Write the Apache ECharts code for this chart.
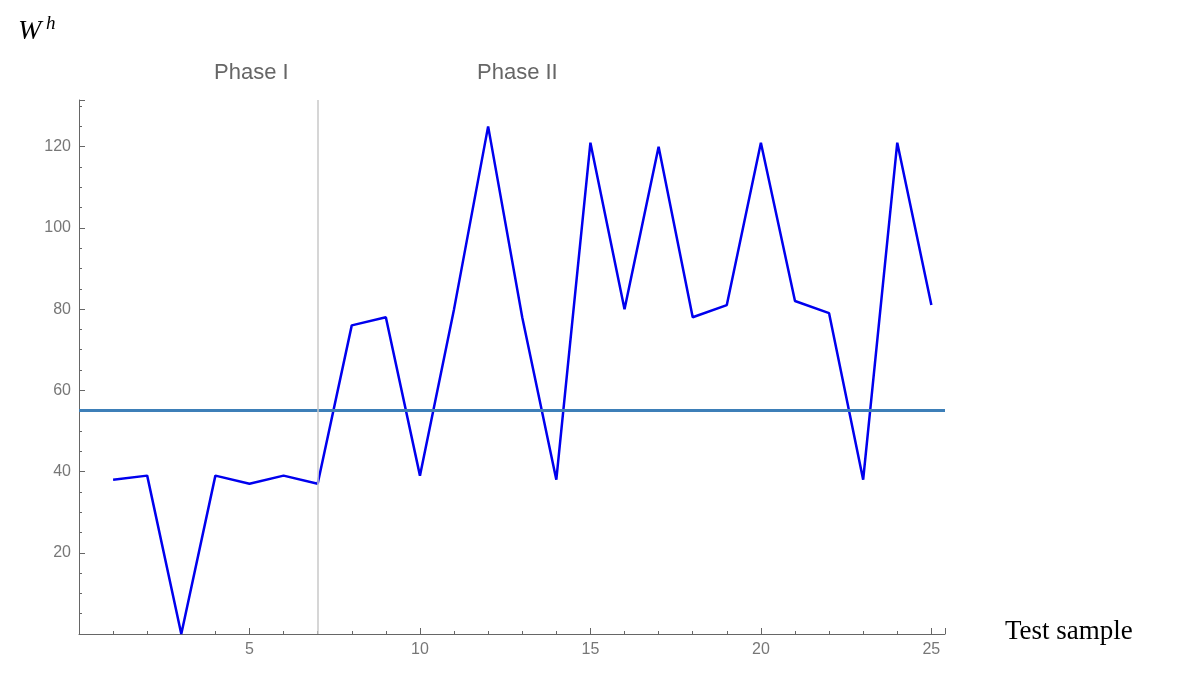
<!DOCTYPE html>
<html><head><meta charset="utf-8">
<script src="https://cdn.jsdelivr.net/npm/echarts@6/dist/echarts.min.js"></script>
<style>body{margin:0;background:#fff}#c{width:1200px;height:685px}</style>
</head><body><div id="c"></div>
<script>
// sample index and W^h values
var samples = [1,2,3,4,5,6,7,8,9,10,11,12,13,14,15,16,17,18,19,20,21,22,23,24,25];
var wh = [38,39,0,39,37,39,37,76,78,39,80,125,78,38,121,80,120,78,81,121,82,79,38,121,81];
var threshold = 55;
var phaseSplit = 7;

var myChart = echarts.init(document.getElementById('c'));
var pts = samples.map(function (s, i) { return [s, wh[i]]; });
var axisGray = '#666';
option = {
    animation: false,
    grid: { left: 79, right: 255, top: 100, bottom: 51 },
    xAxis: {
        type: 'value', min: 0, max: 25.4, interval: 5,
        axisLine: { onZero: false, lineStyle: { color: axisGray } },
        axisTick: { inside: true, length: 6, lineStyle: { color: axisGray } },
        minorTick: { show: true, splitNumber: 5, length: 3, lineStyle: { color: axisGray } },
        axisLabel: { color: '#777', fontSize: 16, fontFamily: 'Liberation Sans', showMaxLabel: false,
            formatter: function (v) { return v === 0 ? '' : v; } },
        splitLine: { show: false }
    },
    yAxis: {
        type: 'value', min: 0, max: 131.5, interval: 20,
        axisLine: { show: true, lineStyle: { color: axisGray } },
        axisTick: { inside: true, length: 6, lineStyle: { color: axisGray } },
        minorTick: { show: true, splitNumber: 4, length: 3, lineStyle: { color: axisGray } },
        axisLabel: { color: '#777', fontSize: 16, fontFamily: 'Liberation Sans', showMaxLabel: false,
            formatter: function (v) { return v === 0 || v > 125 ? '' : v; } },
        splitLine: { show: false }
    },
    graphic: [
        { type: 'text', left: 18, top: 18, style: { text: 'W', font: 'italic 28px Liberation Serif', fill: '#000' } },
        { type: 'text', left: 46, top: 14, style: { text: 'h', font: 'italic 19px Liberation Serif', fill: '#000' } },
        { type: 'text', left: 214, top: 62, style: { text: 'Phase I', font: '22px Liberation Sans', fill: '#666' } },
        { type: 'text', left: 477, top: 62, style: { text: 'Phase II', font: '22px Liberation Sans', fill: '#666' } },
        { type: 'text', left: 1005, top: 618, style: { text: 'Test sample', font: '27px Liberation Serif', fill: '#000' } }
    ],
    series: [{
        type: 'line', data: pts, symbol: 'none',
        lineStyle: { color: '#0000ee', width: 2.5 },
        markLine: {
            silent: true, symbol: 'none', label: { show: false },
            data: [
                { yAxis: threshold, lineStyle: { color: '#3d7fb8', width: 3, type: 'solid' } },
                { xAxis: phaseSplit, lineStyle: { color: '#c8c8c8', width: 1.5, type: 'solid' } }
            ]
        }
    }]
};
myChart.setOption(option);
</script></body></html>
